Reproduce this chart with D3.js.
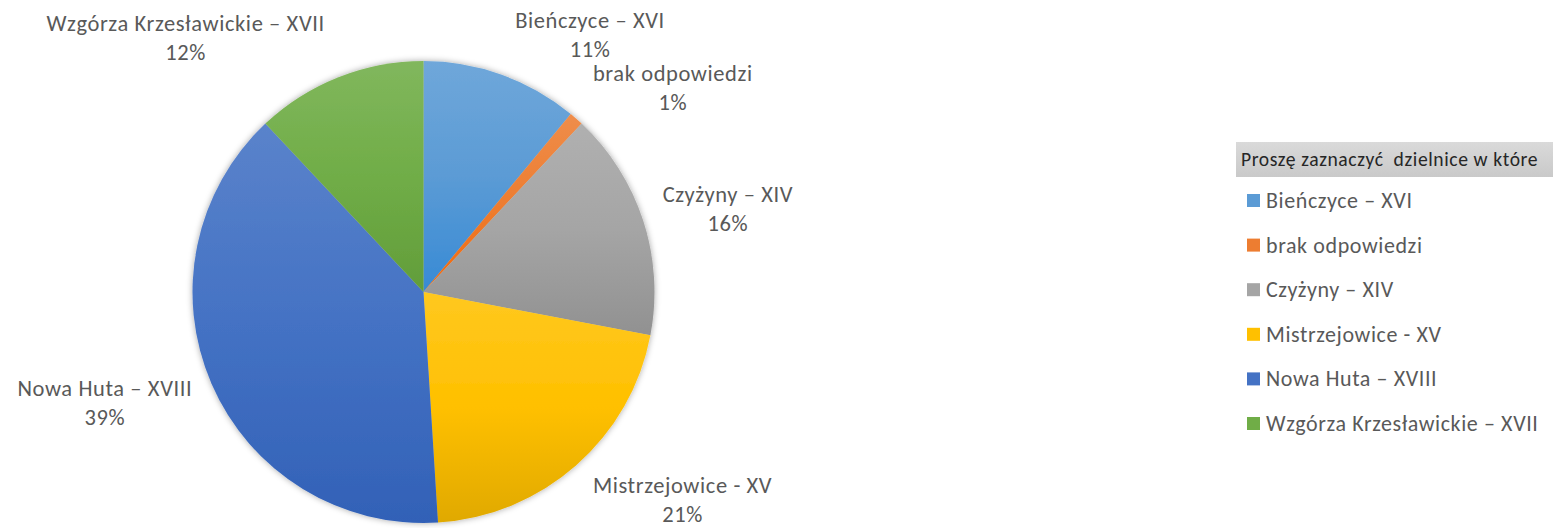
<!DOCTYPE html>
<html>
<head>
<meta charset="utf-8">
<script src="https://cdn.jsdelivr.net/npm/d3@7"></script>
<style>
    body { margin: 0; background: #fff; }
    #chart-container { width: 1553px; height: 528px; overflow: hidden; }
    text { font-family: Carlito, Calibri, Lato, sans-serif; }
</style>
</head>
<body>
<div id="chart-container"></div>
<script>
// Data
const categories = ['Bieńczyce – XVI', 'brak odpowiedzi', 'Czyżyny – XIV', 'Mistrzejowice - XV', 'Nowa Huta – XVIII', 'Wzgórza Krzesławickie – XVII'];
const percents = [11, 1, 16, 21, 39, 12];
const colors = ['#5B9BD5', '#ED7D31', '#A5A5A5', '#FFC000', '#4472C4', '#70AD47'];
const legendTitle = 'Proszę zaznaczyć  dzielnice w które';

const data = categories.map((c, i) => ({ name: c, value: percents[i], color: colors[i] }));

const width = 1553, height = 528;
const cx = 423.5, cy = 292, radius = 231;
const fontSize = 22.5;
const spacing = '0.6px';

const svg = d3.select('#chart-container')
    .append('svg')
    .attr('width', width)
    .attr('height', height);

const defs = svg.append('defs');

// soft shadow under the pie
const shadow = defs.append('filter')
    .attr('id', 'shadow')
    .attr('x', '-10%').attr('y', '-10%')
    .attr('width', '120%').attr('height', '120%');
shadow.append('feDropShadow')
    .attr('dx', 0).attr('dy', 0)
    .attr('stdDeviation', 3)
    .attr('flood-color', '#000')
    .attr('flood-opacity', 0.35);

// per-slice vertical gradient, lighter on top (Excel style)
data.forEach((d, i) => {
    const g = defs.append('linearGradient')
        .attr('id', 'grad' + i)
        .attr('x1', 0).attr('y1', 0)
        .attr('x2', 0).attr('y2', 1);
    const bottom = d3.hsl(d.color);
    bottom.s = Math.min(1, bottom.s * 1.1);
    bottom.l = bottom.l * 0.88;
    g.append('stop').attr('offset', '0%').attr('stop-color', d3.interpolateRgb(d.color, '#fff')(0.12));
    g.append('stop').attr('offset', '50%').attr('stop-color', d.color);
    g.append('stop').attr('offset', '100%').attr('stop-color', bottom.formatHex());
});

const pie = d3.pie()
    .value(d => d.value)
    .sort(null);

const arc = d3.arc()
    .innerRadius(0)
    .outerRadius(radius);

const arcs = pie(data);

const pieGroup = svg.append('g')
    .attr('transform', `translate(${cx},${cy})`);

pieGroup.append('g')
    .attr('filter', 'url(#shadow)')
    .selectAll('path')
    .data(arcs)
    .enter()
    .append('path')
    .attr('d', arc)
    .attr('fill', (d, i) => `url(#grad${i})`);

// Data labels placed outside, next to the middle of each slice
const gap = 10, halfBox = 34, lineGap = 29;
pieGroup.append('g')
    .selectAll('text')
    .data(arcs)
    .enter()
    .append('text')
    .attr('font-size', fontSize)
    .attr('letter-spacing', spacing)
    .attr('fill', '#595959')
    .attr('text-anchor', 'middle')
    .each(function (d) {
        const mid = (d.startAngle + d.endAngle) / 2;
        const px = Math.sin(mid) * (radius + gap);
        const py = -Math.cos(mid) * (radius + gap);
        const el = d3.select(this);
        el.append('tspan').text(d.data.name);
        el.append('tspan').text(d.data.value + '%');
        // widest line decides the box width
        const w = d3.max(el.selectAll('tspan').nodes(), n => n.getComputedTextLength());
        const side = Math.sin(mid) >= 0 ? 1 : -1;
        const boxCx = px + side * (gap + w / 2);
        const boxCy = py - Math.cos(mid) * halfBox + 2;
        el.selectAll('tspan')
            .attr('x', boxCx)
            .attr('y', (t, j) => boxCy - lineGap / 2 + 7.5 + j * lineGap);
    });

// Legend
const legend = svg.append('g')
    .attr('transform', 'translate(1236,142)');

const titleGrad = defs.append('linearGradient')
    .attr('id', 'titleGrad')
    .attr('x1', 0).attr('y1', 0).attr('x2', 0).attr('y2', 1);
titleGrad.append('stop').attr('offset', '0%').attr('stop-color', '#dadada');
titleGrad.append('stop').attr('offset', '100%').attr('stop-color', '#c9c9c9');

legend.append('rect')
    .attr('x', 0).attr('y', 0)
    .attr('width', 330).attr('height', 35)
    .attr('fill', 'url(#titleGrad)');

legend.append('text')
    .attr('x', 5).attr('y', 24)
    .attr('font-size', 19.6)
    .attr('letter-spacing', spacing)
    .attr('fill', '#262626')
    .style('white-space', 'pre')
    .text(legendTitle);

const items = legend.selectAll('.item')
    .data(data)
    .enter()
    .append('g')
    .attr('class', 'item')
    .attr('transform', (d, i) => `translate(11,${52 + i * 44.6})`);

items.append('rect')
    .attr('width', 13).attr('height', 13)
    .attr('fill', d => d.color);

items.append('text')
    .attr('x', 19).attr('y', 14)
    .attr('font-size', fontSize - 0.5)
    .attr('letter-spacing', spacing)
    .attr('fill', '#595959')
    .text(d => d.name);
</script>
</body>
</html>
